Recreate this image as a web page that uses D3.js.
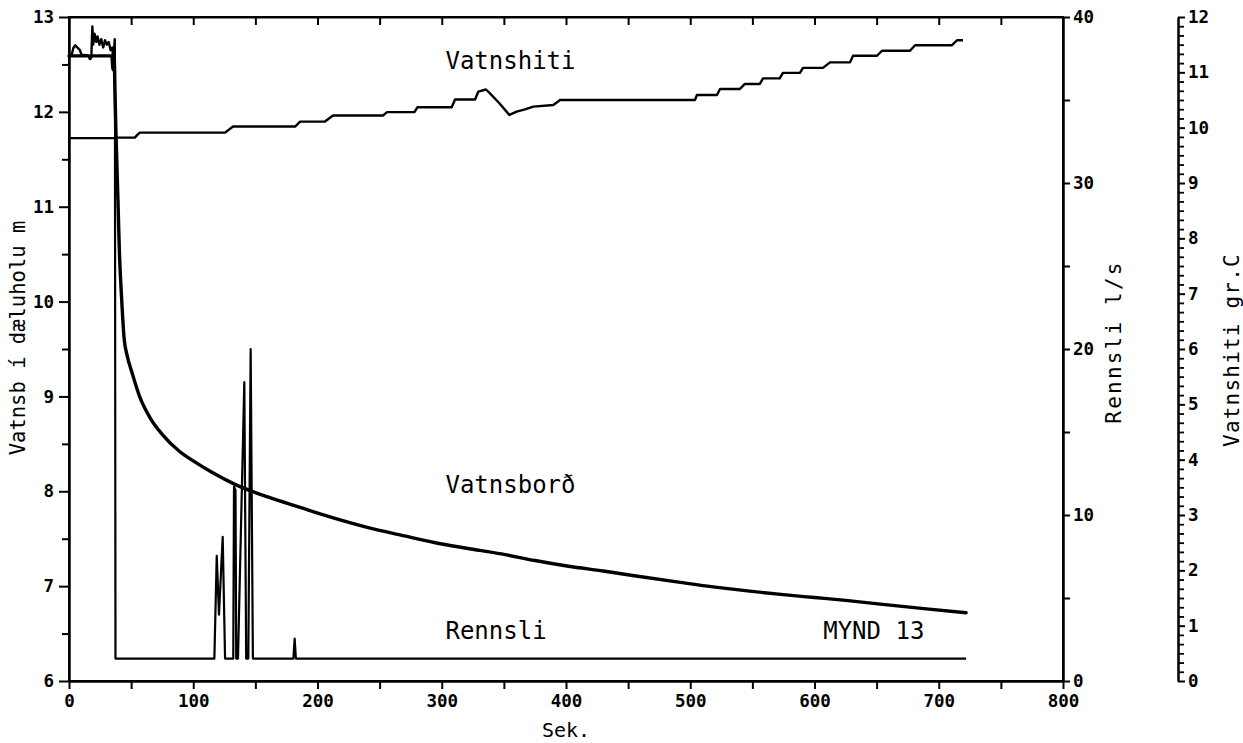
<!DOCTYPE html>
<html>
<head>
<meta charset="utf-8">
<script src="https://cdn.jsdelivr.net/npm/d3@7"></script>
<style>
  html, body { margin: 0; padding: 0; background: #fff; }
  svg { display: block; }
</style>
</head>
<body>
<svg id="chart" width="1243" height="743"></svg>
<script>
// Pumping test record: [seconds, value]
// Water level in the pumped well (m)
const levelSeries = [
  [0, 12.59], [16, 12.59], [17, 12.56], [18, 12.59], [34.5, 12.59], [35.2, 12.47],
  [35.8, 12.44], [36.4, 12.55], [37.0, 12.2], [37.8, 11.78], [39.4, 11.07],
  [40.5, 10.55], [42.4, 10.02], [44.3, 9.62], [47, 9.42], [50.5, 9.26], [57.1, 8.99],
  [65, 8.78], [75, 8.6], [89, 8.42], [100, 8.32], [115, 8.2], [134, 8.07],
  [160, 7.94], [186, 7.83], [210, 7.73], [240, 7.62], [270, 7.53], [294, 7.46],
  [320, 7.4], [348, 7.34], [375, 7.27], [402, 7.21], [430, 7.16], [455, 7.11],
  [492, 7.04], [520, 6.99], [546, 6.95], [575, 6.91],
  [600, 6.88], [625, 6.85], [653, 6.81], [690, 6.76], [722, 6.72]
];

// Water temperature (°C)
const tempSeries = [
  [0, 11.3], [2, 11.3], [3.5, 11.44], [5, 11.49], [8.8, 11.4], [10, 11.32],
  [16, 11.3], [17, 11.26], [18, 11.3], [18.8, 11.83], [19.5, 11.5], [20.5, 11.7],
  [22, 11.55], [23, 11.65], [24.5, 11.5], [26, 11.6], [27.5, 11.45], [29, 11.58],
  [30.5, 11.5], [32, 11.55], [33.5, 11.4], [35, 11.45], [35.6, 11.05], [36.3, 11.4],
  [36.8, 11.6], [37.2, 9.82], [53, 9.82], [55, 9.87], [57, 9.91], [125.6, 9.91],
  [132, 10.02], [182, 10.02], [186, 10.11], [206, 10.11], [212.5, 10.22],
  [252.7, 10.22], [256, 10.28], [278, 10.28], [280.5, 10.37], [308, 10.37],
  [310.7, 10.51], [326.8, 10.51], [329.4, 10.65], [335.6, 10.69], [338.8, 10.62],
  [346, 10.45], [354.4, 10.23], [360.3, 10.29], [367, 10.33], [373.7, 10.38],
  [389.8, 10.41], [395.2, 10.5], [503.8, 10.5], [505.4, 10.59], [521.5, 10.59],
  [524, 10.7], [540, 10.7], [544, 10.79], [556, 10.79], [558.6, 10.89], [572, 10.89],
  [574.6, 10.99], [588.3, 10.99], [590.7, 11.08], [606.8, 11.08], [612.5, 11.18],
  [628.6, 11.18], [631, 11.3], [650.3, 11.3], [654.3, 11.39], [676.9, 11.39],
  [680.9, 11.49], [710.7, 11.49], [714.7, 11.58], [719.5, 11.58]
];

// Discharge (l/s)
const flowSeries = [
  [0, 32.7], [37.0, 32.7], [37.4, 1.35], [117, 1.35], [118.9, 7.54], [120.7, 4.0],
  [123.7, 8.68], [125.6, 1.35], [132.2, 1.35], [132.8, 11.7], [134, 11.5],
  [134.6, 1.35], [136, 1.35], [141.1, 18.0], [142.6, 1.35], [144.3, 1.35],
  [146.2, 20.0], [148, 1.35], [180.6, 1.35], [181.6, 2.55], [182.6, 1.35], [722, 1.35]
];

// Tick values
const xTicks = [0, 100, 200, 300, 400, 500, 600, 700, 800];
const xMinorTicks = [50, 150, 250, 350, 450, 550, 650, 750];
const levelTicks = [6, 7, 8, 9, 10, 11, 12, 13];
const levelMinorTicks = [6.5, 7.5, 8.5, 9.5, 10.5, 11.5, 12.5];
const flowTicks = [0, 10, 20, 30, 40];
const flowMinorTicks = [5, 15, 25, 35];
const tempTicks = [0, 1, 2, 3, 4, 5, 6, 7, 8, 9, 10, 11, 12];

// In-plot labels
const seriesLabels = [
  { text: "Vatnshiti", t: 303, v: 12.45 },
  { text: "Vatnsborð", t: 303, v: 7.98 },
  { text: "Rennsli", t: 303, v: 6.44 },
  { text: "MYND 13", t: 607, v: 6.44 }
];

const svg = d3.select("#chart");
const FONT = "'DejaVu Sans Mono', 'Liberation Mono', monospace";

const plotLeft = 69, plotRight = 1063, plotTop = 17, plotBottom = 681;
const tempAxisX = 1178;

const x = d3.scaleLinear().domain([0, 800]).range([plotLeft, plotRight]);
const yLevel = d3.scaleLinear().domain([6, 13]).range([plotBottom, plotTop]);
const yFlow = d3.scaleLinear().domain([0, 40]).range([plotBottom, plotTop]);
const yTemp = d3.scaleLinear().domain([0, 12]).range([plotBottom, plotTop]);

function styleAxis(g, size, weight) {
  g.selectAll("path.domain").attr("stroke", "#000").attr("stroke-width", 2);
  g.selectAll(".tick line").attr("stroke", "#000").attr("stroke-width", 2);
  g.selectAll(".tick text")
    .attr("font-family", FONT)
    .attr("font-size", size)
    .attr("font-weight", weight)
    .attr("fill", "#000");
}

// Bottom axis: labelled hundreds, minor fifties
const gxMinor = svg.append("g").attr("transform", `translate(0,${plotBottom})`)
  .call(d3.axisBottom(x).tickValues(xMinorTicks).tickSize(8).tickSizeOuter(0).tickFormat(""));
styleAxis(gxMinor, 17, "bold");
const gx = svg.append("g").attr("transform", `translate(0,${plotBottom})`)
  .call(d3.axisBottom(x).tickValues(xTicks).tickSize(8).tickPadding(6).tickSizeOuter(0)
    .tickFormat(d3.format("d")));
styleAxis(gx, 17.5, "bold");

// Top edge ticks pointing into the plot
const gTop = svg.append("g").attr("transform", `translate(0,${plotTop})`)
  .call(d3.axisBottom(x).tickValues(xTicks.concat(xMinorTicks).filter(v => v > 0 && v < 800))
    .tickSize(8).tickSizeOuter(0).tickFormat(""));
styleAxis(gTop, 17, "bold");

// Left axis: water level
const gyMinor = svg.append("g").attr("transform", `translate(${plotLeft},0)`)
  .call(d3.axisLeft(yLevel).tickValues(levelMinorTicks).tickSize(7).tickSizeOuter(0).tickFormat(""));
styleAxis(gyMinor, 17, "bold");
const gy = svg.append("g").attr("transform", `translate(${plotLeft},0)`)
  .call(d3.axisLeft(yLevel).tickValues(levelTicks).tickSize(10).tickPadding(5).tickSizeOuter(0)
    .tickFormat(d3.format("d")));
styleAxis(gy, 17.5, "bold");

// Right axis: discharge
const gfMinor = svg.append("g").attr("transform", `translate(${plotRight},0)`)
  .call(d3.axisRight(yFlow).tickValues(flowMinorTicks).tickSize(7).tickSizeOuter(0).tickFormat(""));
styleAxis(gfMinor, 17, "bold");
const gf = svg.append("g").attr("transform", `translate(${plotRight},0)`)
  .call(d3.axisRight(yFlow).tickValues(flowTicks).tickSize(7).tickPadding(3).tickSizeOuter(0)
    .tickFormat(d3.format("d")));
styleAxis(gf, 17.5, "bold");

// Outer axis: temperature, sixths of a degree between labels
const tempMinor = d3.range(0, 72).map(i => i / 6).filter(v => Math.abs(v - Math.round(v)) > 1e-6);
const gtMinor = svg.append("g").attr("transform", `translate(${tempAxisX},0)`)
  .call(d3.axisRight(yTemp).tickValues(tempMinor).tickSize(6).tickSizeOuter(0).tickFormat(""));
styleAxis(gtMinor, 17, "bold");
gtMinor.selectAll(".tick line").attr("stroke-width", 1.8);
const gt = svg.append("g").attr("transform", `translate(${tempAxisX},0)`)
  .call(d3.axisRight(yTemp).tickValues(tempTicks).tickSize(7).tickPadding(3).tickSizeOuter(0)
    .tickFormat(d3.format("d")));
styleAxis(gt, 17.5, "bold");

// Plot frame
svg.append("rect")
  .attr("x", plotLeft).attr("y", plotTop)
  .attr("width", plotRight - plotLeft).attr("height", plotBottom - plotTop)
  .attr("fill", "none").attr("stroke", "#000").attr("stroke-width", 2);

// Series lines
const lineOf = (yScale, curve) => d3.line().curve(curve || d3.curveLinear)
  .x(d => x(d[0])).y(d => yScale(d[1]));

svg.append("path").datum(flowSeries)
  .attr("d", lineOf(yFlow))
  .attr("fill", "none").attr("stroke", "#000").attr("stroke-width", 2.2)
  .attr("stroke-linejoin", "round");

svg.append("path").datum(tempSeries)
  .attr("d", lineOf(yTemp))
  .attr("fill", "none").attr("stroke", "#000").attr("stroke-width", 2.4)
  .attr("stroke-linejoin", "round");

svg.append("path").datum(levelSeries)
  .attr("d", lineOf(yLevel, d3.curveMonotoneX))
  .attr("fill", "none").attr("stroke", "#000").attr("stroke-width", 3.4)
  .attr("stroke-linejoin", "round").attr("stroke-linecap", "round");

// Series labels
svg.append("g").selectAll("text").data(seriesLabels).join("text")
  .attr("x", d => x(d.t))
  .attr("y", d => yLevel(d.v))
  .attr("font-family", FONT)
  .attr("font-size", 24)
  .attr("fill", "#000")
  .text(d => d.text);

// Axis titles
svg.append("text")
  .attr("x", (plotLeft + plotRight) / 2).attr("y", 737)
  .attr("text-anchor", "middle")
  .attr("font-family", FONT).attr("font-size", 20).attr("fill", "#000")
  .text("Sek.");

svg.append("text")
  .attr("transform", "translate(18,338) rotate(-90)")
  .attr("text-anchor", "middle").attr("dy", "0.35em")
  .attr("font-family", FONT).attr("font-size", 20.5).attr("fill", "#000")
  .text("Vatnsb í dæluholu m");

svg.append("text")
  .attr("transform", "translate(1114,342) rotate(-90)")
  .attr("text-anchor", "middle").attr("dy", "0.35em")
  .attr("font-family", FONT).attr("font-size", 21).attr("letter-spacing", 2.2)
  .attr("fill", "#000")
  .text("Rennsli l/s");

svg.append("text")
  .attr("transform", "translate(1232,350) rotate(-90)")
  .attr("text-anchor", "middle").attr("dy", "0.35em")
  .attr("font-family", FONT).attr("font-size", 21).attr("letter-spacing", 1.2)
  .attr("fill", "#000")
  .text("Vatnshiti gr.C");
</script>
</body>
</html>
